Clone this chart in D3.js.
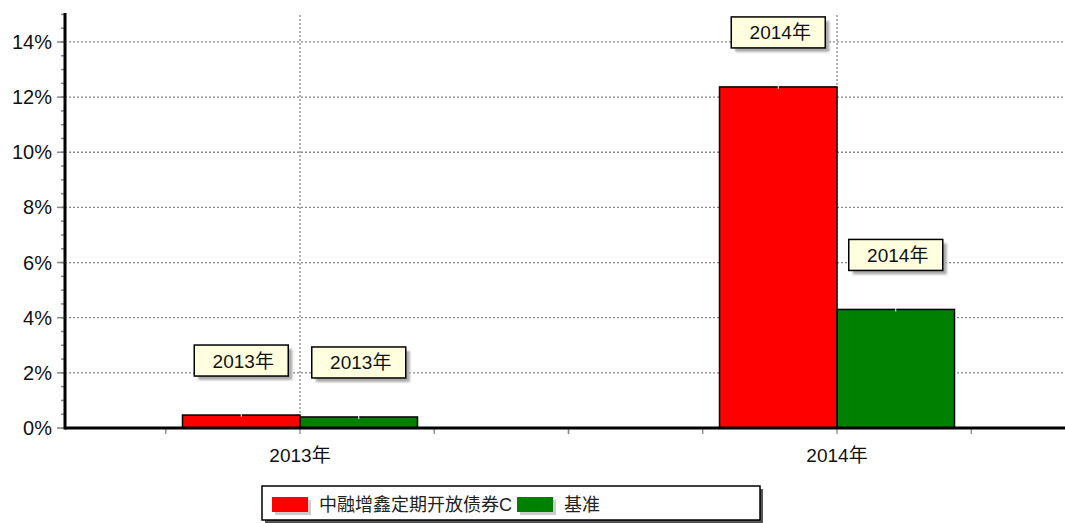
<!DOCTYPE html>
<html>
<head>
<meta charset="utf-8">
<script src="https://cdn.jsdelivr.net/npm/d3@7"></script>
<style>
body { margin: 0; background: #fff; }
text { font-family: Arial, "Liberation Sans", "Noto Sans CJK SC", sans-serif; }
</style>
</head>
<body>
<div id="chart"></div>
<script>
// data
const years = ["2013年", "2014年"]
const seriesNames = ["中融增鑫定期开放债券C", "基准"]
const seriesColors = ["#ff0000", "#008000"]
const fundValues = [0.47, 12.37]
const benchValues = [0.40, 4.30]
const yTicks = [0, 2, 4, 6, 8, 10, 12, 14]

const W = 1065, H = 523
const svg = d3.select("#chart").append("svg")
	.attr("width", W)
	.attr("height", H)

const axis_x = 65
const base_y = 428

const y = d3.scaleLinear().domain([0, 15]).range([base_y, 14.4])
const band = d3.scaleBand().domain(years).range([31.5, 1105.5])
const inner = d3.scaleBand().domain(seriesNames).range([-117.5, 117.5])
function center(d){ return band(d) + band.bandwidth()/2 }

const defs = svg.append("defs")
defs.append("filter").attr("id", "blur")
	.append("feGaussianBlur").attr("stdDeviation", 1)

// horizontal grid
svg.selectAll(".hgrid").data(yTicks.filter(d => d > 0)).enter()
	.append("line")
	.attr("x1", axis_x).attr("x2", W)
	.attr("y1", d => y(d)).attr("y2", d => y(d))
	.attr("stroke", "#888").attr("stroke-width", 1.3)
	.attr("stroke-dasharray", "2,2")

// vertical grid at categories
svg.selectAll(".vgrid").data(years).enter()
	.append("line")
	.attr("x1", d => center(d)).attr("x2", d => center(d))
	.attr("y1", 15).attr("y2", base_y)
	.attr("stroke", "#888").attr("stroke-width", 1.3)
	.attr("stroke-dasharray", "2,2")

// bars
const rows = years.map((yr, i) => [
	{year: yr, s: seriesNames[0], v: fundValues[i], c: seriesColors[0]},
	{year: yr, s: seriesNames[1], v: benchValues[i], c: seriesColors[1]}
]).flat()

svg.selectAll(".bar").data(rows).enter()
	.append("rect")
	.attr("x", d => center(d.year) + inner(d.s))
	.attr("y", d => y(d.v))
	.attr("width", inner.bandwidth())
	.attr("height", d => base_y - y(d.v))
	.attr("fill", d => d.c)
	.attr("stroke", "#000")
	.attr("stroke-width", 1.5)

// small white marks at bar tops
svg.selectAll(".barmark").data(rows).enter()
	.append("line")
	.attr("x1", d => center(d.year) + inner(d.s) + inner.bandwidth()/2)
	.attr("x2", d => center(d.year) + inner(d.s) + inner.bandwidth()/2)
	.attr("y1", d => y(d.v) - 1).attr("y2", d => y(d.v) + 2)
	.attr("stroke", "#fff").attr("stroke-width", 1)

// x axis
const xTickPos = []
years.forEach(yr => {
	for (let k = -2; k <= 2; k++){
		const p = center(yr) + k*band.bandwidth()/4
		if (p > axis_x + 5 && p < W) xTickPos.push(p)
	}
})
svg.selectAll(".xtick").data(xTickPos).enter()
	.append("line")
	.attr("x1", d => d).attr("x2", d => d)
	.attr("y1", base_y).attr("y2", base_y + 6)
	.attr("stroke", "#888").attr("stroke-width", 1.3)

svg.append("line")
	.attr("x1", axis_x).attr("x2", W)
	.attr("y1", base_y).attr("y2", base_y)
	.attr("stroke", "#000").attr("stroke-width", 3)

svg.selectAll(".xlabel").data(years).enter()
	.append("text")
	.attr("x", d => center(d)).attr("y", base_y + 34)
	.attr("text-anchor", "middle")
	.attr("font-size", 19)
	.attr("fill", "#111")
	.text(d => d)

// y axis minor ticks
svg.selectAll(".yminor").data(d3.range(0, 15.01, 0.5)).enter()
	.append("line")
	.attr("x1", axis_x - 4).attr("x2", axis_x)
	.attr("y1", d => y(d)).attr("y2", d => y(d))
	.attr("stroke", "#888").attr("stroke-width", 1.5)
svg.selectAll(".ymajor").data(yTicks).enter()
	.append("line")
	.attr("x1", axis_x - 8).attr("x2", axis_x)
	.attr("y1", d => y(d)).attr("y2", d => y(d))
	.attr("stroke", "#888").attr("stroke-width", 1.5)

svg.append("line")
	.attr("x1", axis_x).attr("x2", axis_x)
	.attr("y1", 13).attr("y2", base_y + 1.5)
	.attr("stroke", "#000").attr("stroke-width", 3)

svg.selectAll(".ylabel").data(yTicks).enter()
	.append("text")
	.attr("x", 52).attr("y", d => y(d) + 7)
	.attr("text-anchor", "end")
	.attr("font-size", 20)
	.attr("fill", "#111")
	.text(d => d + "%")

// callout labels
const box_w = 94, box_h = 31
const labels = svg.selectAll(".callout").data(rows).enter()
	.append("g")
	.attr("transform", d => "translate(" + (center(d.year) + inner(d.s) + inner.bandwidth()/2 - box_w/2) + "," + (y(d.v) - 39 - box_h) + ")")
labels.append("rect")
	.attr("x", 4).attr("y", 4)
	.attr("width", box_w).attr("height", box_h)
	.attr("fill", "#aaa")
	.attr("filter", "url(#blur)")
labels.append("rect")
	.attr("width", box_w).attr("height", box_h)
	.attr("fill", "#ffffe0")
	.attr("stroke", "#000").attr("stroke-width", 1.5)
labels.append("text")
	.attr("x", box_w/2 + 2).attr("y", box_h/2 + 7)
	.attr("text-anchor", "middle")
	.attr("font-size", 19)
	.attr("fill", "#111")
	.text(d => d.year)

// legend
const leg = svg.append("g").attr("transform", "translate(262,486)")
leg.append("rect")
	.attr("x", 3).attr("y", 3).attr("width", 498).attr("height", 36)
	.attr("fill", "#555")
leg.append("rect")
	.attr("width", 498).attr("height", 34)
	.attr("fill", "#fff")
	.attr("stroke", "#000").attr("stroke-width", 1.5)
const legX = [10, 255]
const legItems = leg.selectAll(".item").data(seriesNames).enter()
	.append("g")
	.attr("transform", (d, i) => "translate(" + legX[i] + ",11)")
legItems.append("rect")
	.attr("x", 3).attr("y", 3).attr("width", 36).attr("height", 15)
	.attr("fill", "#ccc")
legItems.append("rect")
	.attr("width", 36).attr("height", 15)
	.attr("fill", (d, i) => seriesColors[i])
legItems.append("text")
	.attr("x", 47).attr("y", 14)
	.attr("font-size", 18)
	.attr("fill", "#222")
	.text(d => d)
</script>
</body>
</html>
